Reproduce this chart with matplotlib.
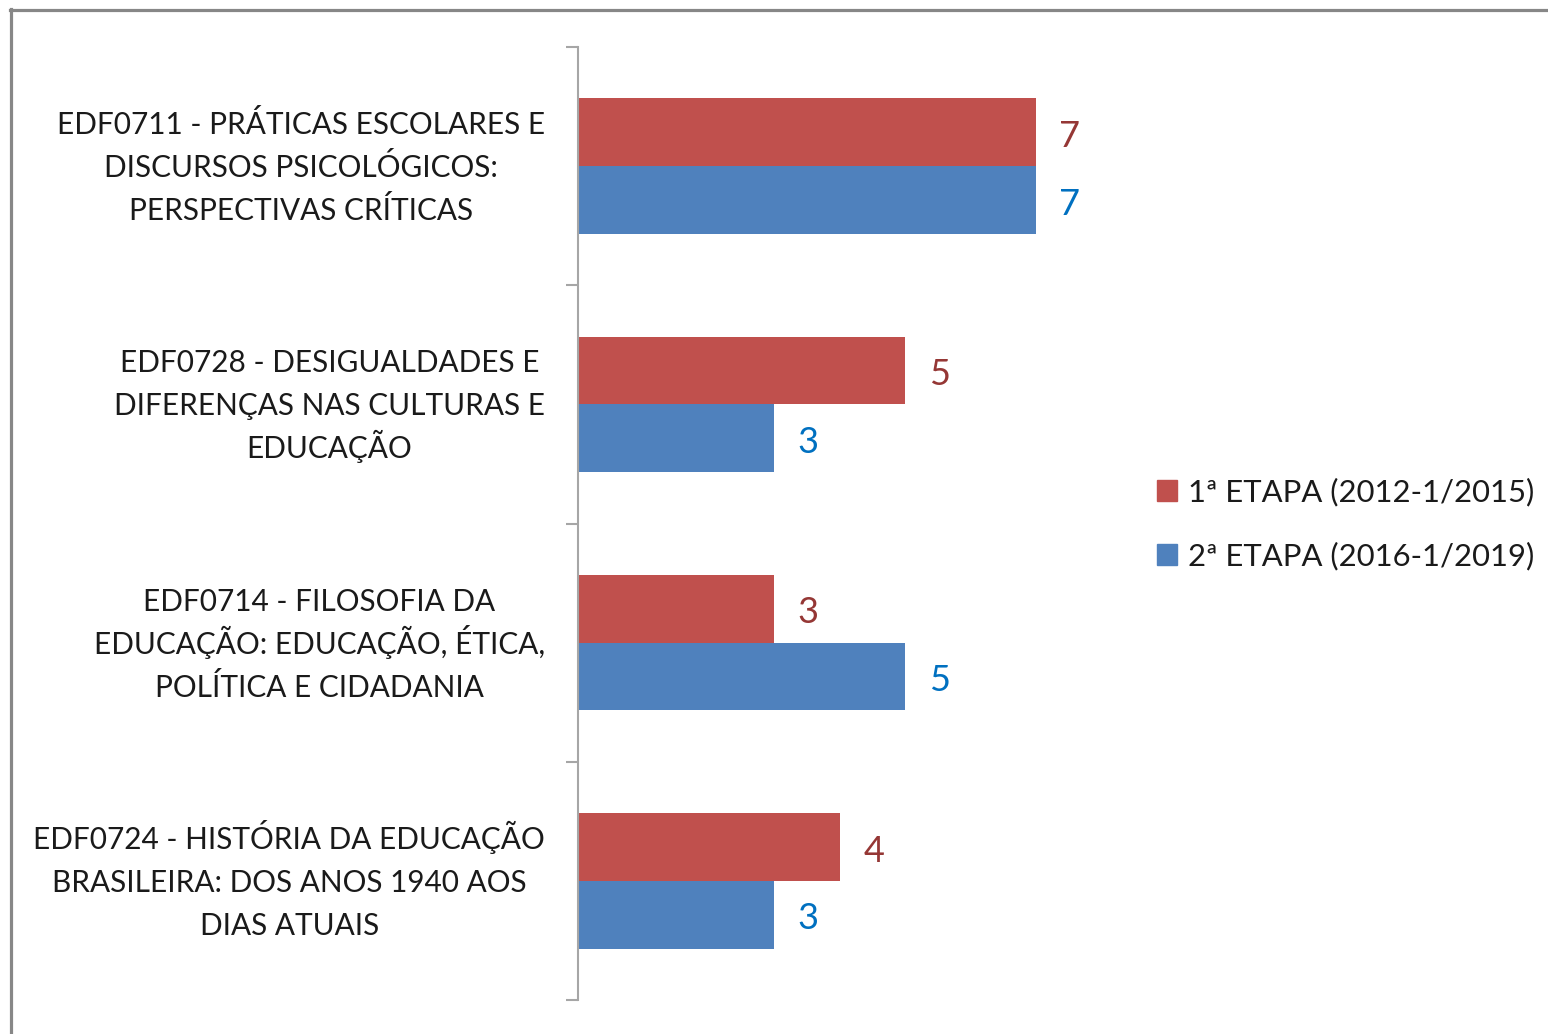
import matplotlib.pyplot as plt
from matplotlib.lines import Line2D
from matplotlib.patches import Patch
from matplotlib import rcParams

rcParams['font.family'] = ['Lato', 'DejaVu Sans']

# Data
categories = [
    "EDF0711 - PRÁTICAS ESCOLARES E\nDISCURSOS PSICOLÓGICOS:\nPERSPECTIVAS CRÍTICAS",
    "EDF0728 - DESIGUALDADES E\nDIFERENÇAS NAS CULTURAS E\nEDUCAÇÃO",
    "EDF0714 - FILOSOFIA DA\nEDUCAÇÃO: EDUCAÇÃO, ÉTICA,\nPOLÍTICA E CIDADANIA",
    "EDF0724 - HISTÓRIA DA EDUCAÇÃO\nBRASILEIRA: DOS ANOS 1940 AOS\nDIAS ATUAIS",
]
etapa1 = [7, 5, 3, 4]
etapa2 = [7, 3, 5, 3]
series_names = ["1ª ETAPA (2012-1/2015)", "2ª ETAPA (2016-1/2019)"]

red = '#C0504D'
blue = '#4F81BD'
red_text = '#953735'
blue_text = '#0070C0'
label_color = '#1a1a1a'

DPI = 100
px = 72 / DPI  # one pixel in points

fig = plt.figure(figsize=(15.48, 10.34), dpi=DPI)
ax = fig.add_axes([578 / 1548, 34 / 1034, 654 / 1548, 953 / 1034])

pos = list(range(len(categories)))
h = 0.284
bars1 = ax.barh([p - h / 2 for p in pos], etapa1, height=h, color=red)
bars2 = ax.barh([p + h / 2 for p in pos], etapa2, height=h, color=blue)

for bars, vals, col in [(bars1, etapa1, red_text), (bars2, etapa2, blue_text)]:
    for b, v in zip(bars, vals):
        ax.annotate(str(v), (v, b.get_y() + b.get_height() / 2),
                    xytext=(17, -3), textcoords='offset points',
                    ha='left', va='center', fontsize=26, color=col)

ax.set_xlim(0, 10)
ax.set_ylim(len(categories) - 0.5, -0.5)

# tick marks on band boundaries only
ax.set_yticks([])
ax.set_yticks([p - 0.5 for p in range(len(categories) + 1)], minor=True)
ax.tick_params(axis='y', which='minor', length=9, width=1.5, color='#A6A6A6')
ax.set_xticks([])

for s in ['top', 'right', 'bottom']:
    ax.spines[s].set_visible(False)
ax.spines['left'].set_color('#A6A6A6')
ax.spines['left'].set_linewidth(1.5)

# category labels: each line centred, block right-aligned next to the axis
renderer = fig.canvas.get_renderer()
label_size = 21.4
right_gap = 33    # px between block and axis
line_step = 43    # px between lines
half_cap = 11     # px from cap middle down to baseline
for p, cat in zip(pos, categories):
    lines = cat.split('\n')
    widths = []
    for ln in lines:
        t = fig.text(0, 0, ln, fontsize=label_size)
        widths.append(t.get_window_extent(renderer).width)
        t.remove()
    centre = -(right_gap + max(widths) / 2)
    n = len(lines)
    for i, ln in enumerate(lines):
        dy = -(i - (n - 1) / 2) * line_step - half_cap
        ax.annotate(ln, xy=(0, p), xycoords=('axes fraction', 'data'),
                    xytext=(centre * px, dy * px), textcoords='offset points',
                    ha='center', va='baseline', fontsize=label_size,
                    color=label_color, annotation_clip=False)

handles = [Patch(color=red), Patch(color=blue)]
fig.legend(handles, series_names, loc='center left',
           bbox_to_anchor=(1157 / 1548, 1 - 524 / 1034), frameon=False,
           borderpad=0, borderaxespad=0,
           fontsize=22.3, handlelength=0.65, handleheight=0.65, handletextpad=0.35,
           labelspacing=1.15, labelcolor=label_color)

# outer chart border (top and left edges)
fig.add_artist(Line2D([11 / 1548, 11 / 1548], [0, 1 - 9 / 1034],
                      transform=fig.transFigure, color='#878787', lw=2.3))
fig.add_artist(Line2D([10 / 1548, 1], [1 - 10 / 1034, 1 - 10 / 1034],
                      transform=fig.transFigure, color='#878787', lw=2.3))

plt.savefig('out.png', dpi=DPI)
